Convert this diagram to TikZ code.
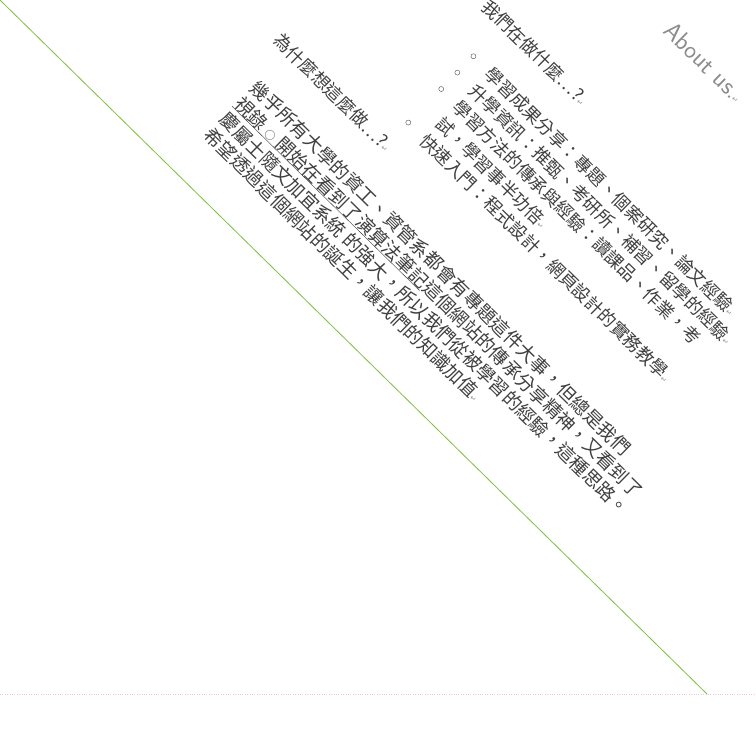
\documentclass[tikz,border=0pt]{standalone}
\usepackage{fontspec}
\setmainfont{Liberation Sans}
\newfontfamily\cjk{Noto Sans CJK TC}
\newfontfamily\symb{DejaVu Sans}
\usetikzlibrary{positioning}
\newcommand{\ret}{{\symb\fontsize{7}{7}\selectfont\color{black!45}↵}}
\newcommand{\ring}{{\fontsize{11}{11}\selectfont ○}}
\definecolor{leaf}{RGB}{126,192,64}
\definecolor{blush}{RGB}{245,190,235}

\begin{document}
\begin{tikzpicture}[x=1pt,y=1pt]
\tikzstyle{row}=[anchor=west, inner sep=0pt, rotate=-44.5, text=black!75, font=\cjk\fontsize{17.8}{20}\selectfont]
\tikzstyle{rowb}=[row, font=\cjk\fontsize{18.7}{20}\selectfont]
\tikzstyle{bullet}=[circle, draw=black!70, thin, inner sep=0pt, minimum size=5pt]
\useasboundingbox (0,0) rectangle (756,-744);
\fill[white] (0,0) rectangle (756,-744);
\draw[leaf, thick] (0,0) -- (707,-694); %
\draw[blush, dotted] (0,-694) -- (756,-694); %

\begin{scope}[shift={(490,-8)}, rotate=-44.5]
\node[row, font=\sffamily\fontsize{25}{25}\selectfont, text=black!45] (about) at (140,112) {About us.\ret};
\node[row] (what) at (-7,0) {我們在做什麼…?\ret};
\node[bullet] (b1) at (22,-46) {};
\node[bullet] (b2) at (22,-69) {};
\node[bullet] (b3) at (22,-92) {};
\node[bullet] (b4) at (22,-139) {};
\node[row] (share) at (43,-46) {學習成果分享：專題、個案研究、論文經驗\ret};
\node[row] (study) at (43,-69) {升學資訊：推甄、考研所、補習、留學的經驗\ret};
\node[row] (method) at (43,-92) {學習方法的傳承與經驗：讀課品、作業，考};
\node[row] (method2) at (43,-116) {試，學習事半功倍\ret};
\node[row] (quick) at (43,-139) {快速入門：程式設計，網頁設計的實務教學\ret};

\node[row] (why) at (-132,-170) {為什麼想這麼做…?\ret};
\node[rowb] (p1) at (-115,-220) {幾乎所有大學的資工、資管系都會有專題這件大事，但總是我們};
\node[rowb] (link) at (-115,-242) {視錄 \ring\ 開始在看到了演算法筆記};
\node[rowb, right=0pt of link] (p2) {這個網站的傳承分享精神，又看到了};
\node[rowb] (p3) at (-115,-264) {慶屬士隨文加宜系統 的強大，所以我們從被學習的經驗，這種思路。};
\node[rowb] (p4) at (-115,-286) {希望透過這個網站的誕生，讓我們的知識加值\ret};
\draw[black!80] (link.south west) -- (link.south east); %
\end{scope}
\end{tikzpicture}
\end{document}
